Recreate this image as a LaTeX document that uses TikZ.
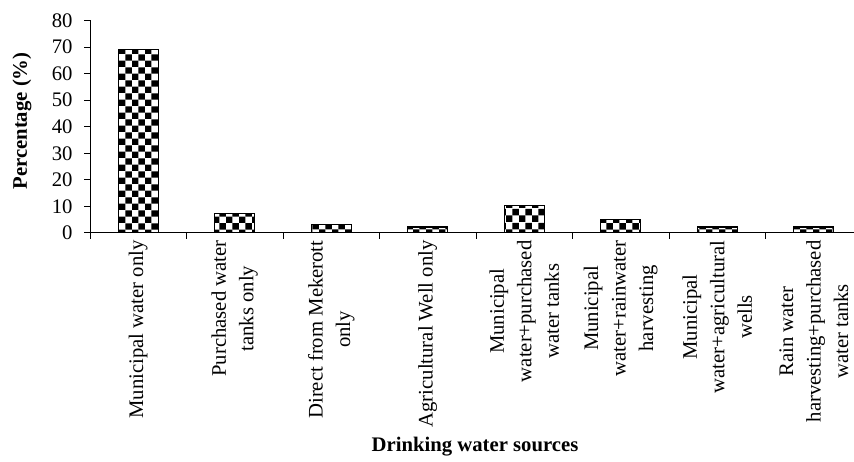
\documentclass[tikz,border=0pt]{standalone}
\usepackage{fontspec}
\setmainfont{Liberation Serif}
\usetikzlibrary{patterns.meta}
\tikzdeclarepattern{
    name=checker, type=uncolored,
    bottom left={(0pt,0pt)}, top right={(13.34pt,13.34pt)},
    tile size={(13.34pt,13.34pt)},
    code={\fill (0pt,0pt) rectangle (6.67pt,6.67pt);
          \fill (6.67pt,6.67pt) rectangle (13.34pt,13.34pt);}
}
\tikzset{
    srcbar/.style={draw, line width=1.2pt, pattern=checker, minimum width=40pt,
        inner sep=0pt, anchor=south},
    srclabel/.style={rotate=90, anchor=east, align=center, inner sep=0pt,
        font=\fontsize{20.7}{27.5}\selectfont},
    ticklabel/.style={anchor=east, inner sep=0pt, font=\fontsize{20.7}{24}\selectfont},
    axistitle/.style={inner sep=0pt, font=\fontsize{20.7}{24}\selectfont\bfseries}
}

\begin{document}
\begin{tikzpicture}[x=1pt, y=1pt, line width=1pt]
\useasboundingbox (-90,-229) rectangle (764,233);
% axes and ticks
\draw (0,0) -- (0,212.5);
\draw (0,0) -- (764,0);
\foreach \v in {0,10,...,80}{
    \draw (-6,\v*2.656) -- (0,\v*2.656);
    \node[ticklabel] (tick\v) at (-17,\v*2.656) {\v};
}
\foreach \k in {0,...,7}
    \draw (\k*96.5,0) -- (\k*96.5,-6);
% bars and source names
\foreach \val/\txt [count=\i] in {69/{Municipal water only},
        7/{Purchased water\\tanks only},
        3/{Direct from Mekerott\\only},
        2/{Agricultural Well only},
        10/{Municipal\\water+purchased\\water tanks},
        5/{Municipal\\water+rainwater\\harvesting},
        2/{Municipal\\water+agricultural\\wells},
        2/{Rain water\\harvesting+purchased\\water tanks}}{
    \node[srcbar, minimum height=\val*2.656pt] (bar\i) at ({(\i-0.5)*96.5},0) {};
    \node[srclabel] (src\i) at ({(\i-0.5)*96.5},-7) {\txt};
}
\node[axistitle, rotate=90] (ytitle) at (-68,112) {Percentage (\%)};
\node[axistitle] (xtitle) at (385,-214) {Drinking water sources};
\end{tikzpicture}
\end{document}
